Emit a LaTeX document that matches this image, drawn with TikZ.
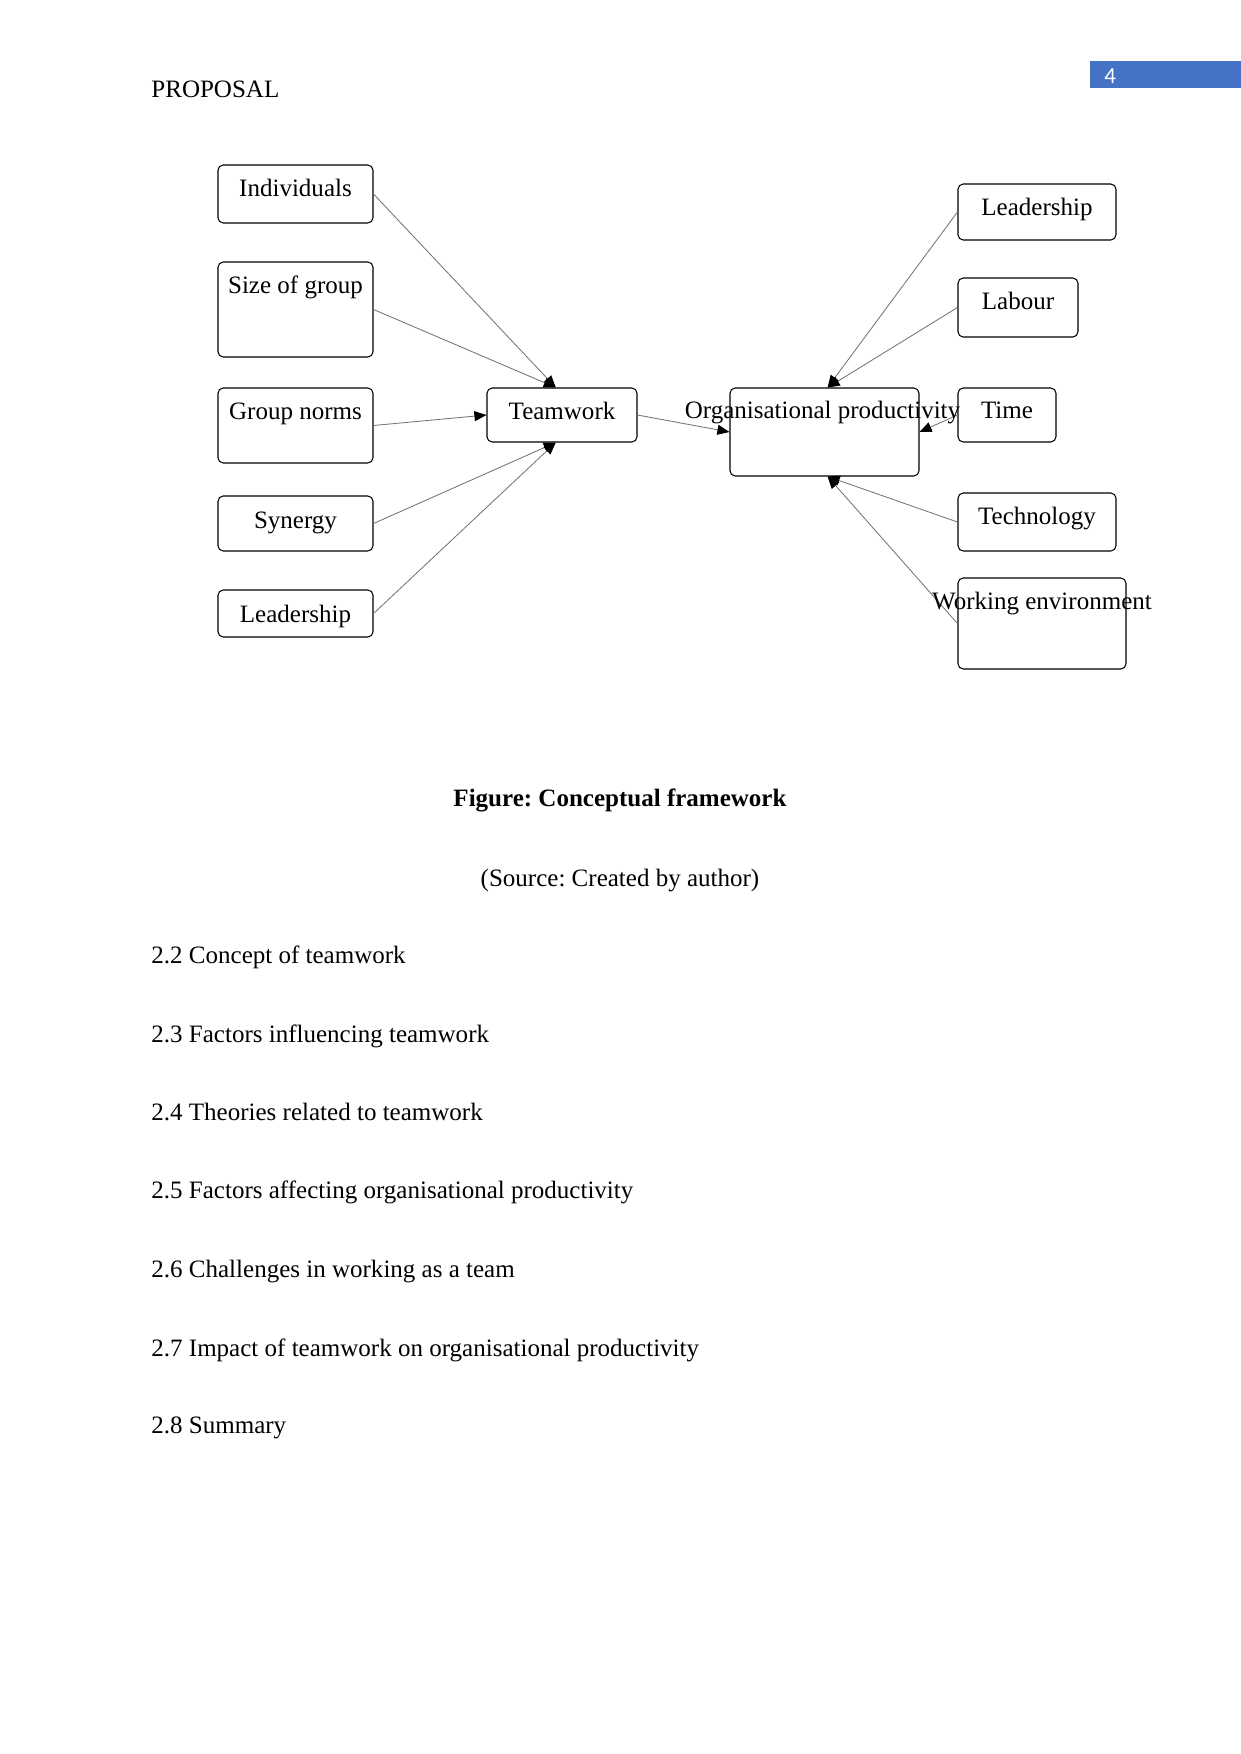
\documentclass[tikz,border=0pt]{standalone}
\usepackage{fontspec}
\setmainfont{Liberation Serif}
\newfontfamily\pgnumfont{Carlito}
\usetikzlibrary{arrows.meta,fit}
\definecolor{pgblue}{HTML}{4472C4}
\frenchspacing
\begin{document}
\begin{tikzpicture}[x=0.47968pt,y=-0.47968pt,
  box/.style={draw=black,line width=0.5pt,rounded corners=2.5pt,inner sep=0pt},
  lbl/.style={anchor=base,inner sep=0pt,font=\fontsize{12}{14}\selectfont},
  txt/.style={anchor=base west,inner sep=0pt,font=\fontsize{12}{14}\selectfont},
  conn/.style={draw=black!55,line width=0.4pt,-{Triangle[length=5.8pt,width=4.8pt,black]}}]
\path[use as bounding box,fill=white] (0,0) rectangle (1241,1754);
% header
\node[txt] (hdr) at (151,97) {PROPOSAL};
\fill[pgblue] (1090,61) rectangle (1241,88);
\node[anchor=base west,inner sep=0pt,text=white,font=\pgnumfont\fontsize{11}{13}\selectfont] (pg) at (1104,83) {4};
% left boxes
\node[box,fit={(218,165) (373,223)}] (ind) {};
\node[lbl] (indt) at (295.5,196) {Individuals};
\node[box,fit={(218,262) (373,357)}] (sog) {};
\node[lbl] (sogt) at (295.5,293) {Size of group};
\node[box,fit={(218,388) (373,463)}] (gn) {};
\node[lbl] (gnt) at (295.5,419) {Group norms};
\node[box,fit={(218,496) (373,551)}] (syn) {};
\node[lbl] (synt) at (295.5,528) {Synergy};
\node[box,fit={(218,590) (373,637)}] (lead) {};
\node[lbl] (leadt) at (295.5,622) {Leadership};
% teamwork
\node[box,fit={(487,388) (637,442)}] (tw) {};
\node[lbl] (twt) at (562,419) {Teamwork};
% organisational productivity
\node[box,fit={(730,388) (919,476)}] (org) {};
% right boxes
\node[box,fit={(958,184) (1116,240)}] (rl) {};
\node[lbl] (rlt) at (1037,215) {Leadership};
\node[box,fit={(958,278) (1078,337)}] (lab) {};
\node[lbl] (labt) at (1018,309) {Labour};
\node[box,fit={(958,388) (1056,442)}] (tim) {};
\node[lbl] (timt) at (1007,418) {Time};
\node[box,fit={(958,493) (1116,551)}] (tech) {};
\node[lbl] (techt) at (1037,524) {Technology};
\node[box,fit={(958,578) (1126,669)}] (we) {};
% connectors
\draw[conn] (ind.east) -- ([xshift=-3pt]tw.north);
\draw[conn] (sog.east) -- ([xshift=-3pt]tw.north);
\draw[conn] (gn.east) -- (tw.west);
\draw[conn] (syn.east) -- ([xshift=-3pt]tw.south);
\draw[conn] (lead.east) -- ([xshift=-3pt]tw.south);
\draw[conn] (tw.east) -- (org.west);
\draw[conn] (rl.west) -- ([xshift=1.5pt]org.north);
\draw[conn] (lab.west) -- ([xshift=1.5pt]org.north);
\draw[conn] (tim.west) -- (org.east);
\draw[conn] (tech.west) -- ([xshift=1.5pt]org.south);
\draw[conn] (we.west) -- ([xshift=1.5pt]org.south);
% overflowing labels drawn on top
\node[lbl] (orgt) at (822.5,418) {Organisational productivity};
\node[lbl] (wet) at (1042,609) {Working environment};
% caption
\node[lbl,font=\fontsize{12}{14}\selectfont\bfseries] (cap) at (620,806) {Figure: Conceptual framework};
\node[lbl] (src) at (620,886) {(Source: Created by author)};
% list
\node[txt] (l22) at (151,963) {2.2 Concept of teamwork};
\node[txt] (l23) at (151,1042) {2.3 Factors influencing teamwork};
\node[txt] (l24) at (151,1120) {2.4 Theories related to teamwork};
\node[txt] (l25) at (151,1198) {2.5 Factors affecting organisational productivity};
\node[txt] (l26) at (151,1277) {2.6 Challenges in working as a team};
\node[txt] (l27) at (151,1356) {2.7 Impact of teamwork on organisational productivity};
\node[txt] (l28) at (151,1433) {2.8 Summary};
\end{tikzpicture}
\end{document}
